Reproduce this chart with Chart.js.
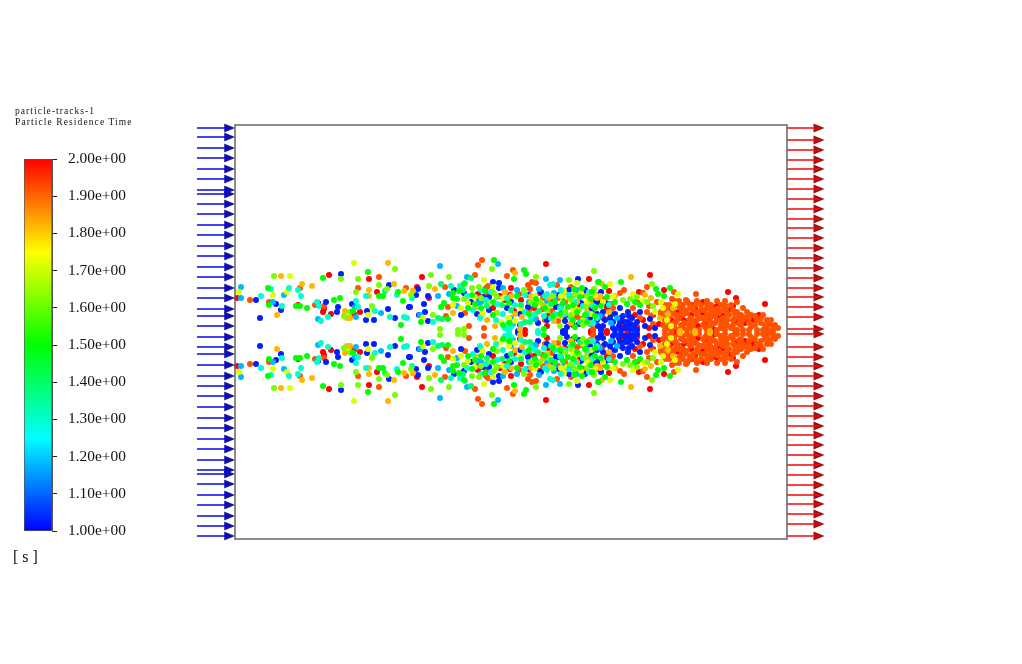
<!DOCTYPE html>
<html>
<head>
<meta charset="utf-8">
<title>particle-tracks-1</title>
<script src="https://cdn.jsdelivr.net/npm/chart.js@4/dist/chart.umd.min.js"></script>
<style>
  html, body { margin: 0; padding: 0; background: #fff; overflow: hidden; }
  canvas { display: block; position: absolute; }
  #tracks { left: 0; top: 0; }
  #colorbar { left: 0; top: 130px; }
  .note { position: absolute; font-family: "Liberation Serif", serif; color: #111; white-space: nowrap; }
  #t1 { left: 15px; top: 106px; font-size: 9.5px; letter-spacing: 1.05px; }
  #t2 { left: 15px; top: 117px; font-size: 9.5px; letter-spacing: 1.1px; }
  #unit { left: 13px; top: 548px; font-size: 16px; }
</style>
</head>
<body>
<canvas id="tracks" width="1022" height="664"></canvas>
<canvas id="colorbar" width="140" height="430"></canvas>
<div class="note" id="t1">particle-tracks-1</div>
<div class="note" id="t2">Particle Residence Time</div>
<div class="note" id="unit">[ s ]</div>
<script>
// residence time of each colour band [s], positions in mm from inlet / centre line
const greenT = 1.5, limeT = 1.62, springT = 1.4, cyanT = 1.3, yellowT = 1.72, amberT = 1.82, azureT = 1.18, blueT = 1.03, orangeT = 1.92, redT = 2.0;

const greenX = [133,88,33,144,148,163,168,34,61,65,72,99,105,118,166,259,289,291,279,363,229,339,347,218,237,282,301,356,209,206,233,258,274,333,338,360,186,213,258,294,338,274,309,268,386,364,370,357,421,435,423,429,372,380,392,400,360,366,405,218,224,240,250,310,320,342,350,325,318,300,345,328,352,340,246,222,
  133,88,33,144,148,163,168,34,61,65,72,99,105,118,166,259,289,291,279,363,229,339,347,218,237,282,301,356,209,206,233,258,274,333,338,360,186,213,258,294,338,274,309,268,386,364,370,357,421,435,423,429,372,380,392,400,360,366,405,218,224,240,250,310,320,342,350,325,318,300,345,328,352,340,246,222];
const greenY = [60,54,44,36,36,40,31,27,26,26,24,32,34,21,7,72,62,58,53,50,48,43,44,39,37,36,33,33,29,25,24,30,29,25,27,24,10,13,17,18,12,9,3,7,50,50,45,40,43,44,38,36,35,30,28,30,16,26,27,34,41,28,41,24,30,20,17,18,16,27,35,29,10,5,24,33,
  -60,-54,-44,-36,-36,-40,-31,-27,-26,-26,-24,-32,-34,-21,-7,-72,-62,-58,-53,-50,-48,-43,-44,-39,-37,-36,-33,-33,-29,-25,-24,-30,-29,-25,-27,-24,-10,-13,-17,-18,-12,-9,-3,-7,-50,-50,-45,-40,-43,-44,-38,-36,-35,-30,-28,-30,-16,-26,-27,-34,-41,-28,-41,-24,-30,-20,-17,-18,-16,-27,-35,-29,-10,-5,-24,-33];

const limeX = [160,39,106,123,144,121,152,176,137,115,109,257,359,196,214,301,334,194,244,289,359,259,229,336,351,198,262,336,205,223,229,417,395,402,412,418,388,237,246,262,305,340,352,330,312,344,348,318,296,325,
  160,39,106,123,144,121,152,176,137,115,109,257,359,196,214,301,334,194,244,289,359,259,229,336,351,198,262,336,205,223,229,417,395,402,412,418,388,237,246,262,305,340,352,330,312,344,348,318,296,325];
const limeY = [63,56,53,53,47,40,43,37,26,20,16,63,61,57,55,55,52,46,45,42,43,39,33,32,25,17,19,17,3,2,3,48,33,35,30,26,32,44,34,35,30,37,36,21,22,22,7,36,30,6,
  -63,-56,-53,-53,-47,-40,-43,-37,-26,-20,-16,-63,-61,-57,-55,-55,-52,-46,-45,-42,-43,-39,-33,-32,-25,-17,-19,-17,-3,-2,-3,-48,-33,-35,-30,-26,-32,-44,-34,-35,-30,-37,-36,-21,-22,-22,-7,-36,-30,-6];

const springX = [150,236,206,203,207,267,295,228,252,276,286,304,335,345,316,290,
  150,236,206,203,207,267,295,228,252,276,286,304,335,345,316,290];
const springY = [41,54,48,14,13,27,10,42,26,22,27,21,33,10,28,10,
  -41,-54,-48,-14,-13,-27,-10,-42,-26,-22,-27,-21,-33,-10,-28,-10];

const cyanX = [36,54,63,26,66,131,162,177,47,82,84,93,86,121,123,140,155,169,172,216,225,230,315,318,290,312,251,262,280,245,261,198,309,276,303,274,352,358,374,238,268,286,296,316,326,334,340,354,358,246,320,330,232,256,272,300,310,325,336,348,362,270,290,
  36,54,63,26,66,131,162,177,47,82,84,93,86,121,123,140,155,169,172,216,225,230,315,318,290,312,251,262,280,245,261,198,309,276,303,274,352,358,374,238,268,286,296,316,326,334,340,354,358,246,320,330,232,256,272,300,310,325,336,348,362,270,290];
const cyanY = [43,44,42,36,36,36,37,34,26,30,26,15,11,31,25,21,15,15,14,46,46,49,47,48,37,38,32,28,27,14,12,10,16,5,1,1,18,26,27,22,18,8,15,14,42,37,30,40,9,42,18,18,36,40,34,18,36,24,14,26,14,4,20,
  -43,-44,-42,-36,-36,-36,-37,-34,-26,-30,-26,-15,-11,-31,-25,-21,-15,-15,-14,-46,-46,-49,-47,-48,-37,-38,-32,-28,-27,-14,-12,-10,-16,-5,-1,-1,-18,-26,-27,-22,-18,-8,-15,-14,-42,-37,-30,-40,-9,-42,-18,-18,-36,-40,-34,-18,-36,-24,-14,-26,-14,-4,-20];

const yellowX = [119,4,38,52,55,138,133,249,258,329,342,346,218,233,188,248,274,280,348,375,443,408,398,420,428,432,436,426,440,240,266,300,332,340,352,360,322,286,226,252,268,314,326,338,356,368,378,
  119,4,38,52,55,138,133,249,258,329,342,346,218,233,188,248,274,280,348,375,443,408,398,420,428,432,436,426,440,240,266,300,332,340,352,360,322,286,226,252,268,314,326,338,356,368,378];
const yellowY = [69,40,37,40,56,23,17,52,45,41,49,39,27,29,14,19,14,11,12,48,38,31,38,20,24,12,6,30,28,35,10,36,35,24,30,37,17,24,24,30,34,26,36,20,18,30,36,
  -69,-40,-37,-40,-56,-23,-17,-52,-45,-41,-49,-39,-27,-29,-14,-19,-14,-11,-12,-48,-38,-31,-38,-20,-24,-12,-6,-30,-28,-35,-10,-36,-35,-24,-30,-37,-17,-24,-24,-30,-34,-26,-36,-20,-18,-30,-36];

const amberX = [153,46,67,77,159,134,134,169,178,42,110,112,115,280,200,314,218,252,287,319,354,260,285,396,367,410,380,365,416,425,433,438,445,460,475,240,296,304,326,336,342,352,362,280,270,246,276,308,330,356,374,
  153,46,67,77,159,134,134,169,178,42,110,112,115,280,200,314,218,252,287,319,354,260,285,396,367,410,380,365,416,425,433,438,445,460,475,240,296,304,326,336,342,352,362,280,270,246,276,308,330,356,374];
const amberY = [69,56,48,46,48,42,36,41,41,17,21,14,14,59,43,34,19,12,15,11,9,6,3,55,48,37,36,36,34,14,18,24,1,1,1,24,36,30,16,9,30,20,34,18,40,16,36,27,38,28,20,
  -69,-56,-48,-46,-48,-42,-36,-41,-41,-17,-21,-14,-14,-59,-43,-34,-19,-12,-15,-11,-9,-6,-3,-55,-48,-37,-36,-36,-34,-14,-18,-24,-1,-1,-1,-24,-36,-30,-16,-9,-30,-20,-34,-18,-40,-16,-36,-27,-38,-28,-20];

const azureX = [6,49,6,38,83,120,146,121,263,205,232,311,325,282,304,214,203,319,328,243,185,365,382,376,355,246,268,294,312,326,338,350,360,278,222,276,300,320,342,
  6,49,6,38,83,120,146,121,263,205,232,311,325,282,304,214,203,319,328,243,185,365,382,376,355,246,268,294,312,326,338,350,360,278,222,276,300,320,342];
const azureY = [45,37,34,30,13,25,19,15,68,66,55,53,52,42,43,38,36,39,35,29,17,16,14,9,8,30,44,30,30,26,36,14,25,8,26,14,13,34,42,
  -45,-37,-34,-30,-13,-25,-19,-15,-68,-66,-55,-53,-52,-42,-43,-38,-36,-39,-35,-29,-17,-16,-14,-9,-8,-30,-44,-30,-30,-26,-36,-14,-25,-8,-26,-14,-13,-34,-42];

const blueX = [106,154,181,21,41,46,25,83,91,103,102,117,132,153,174,131,139,160,184,343,258,264,183,264,229,219,248,254,294,324,193,189,236,272,293,321,327,346,363,175,190,193,226,242,285,303,330,332,330,328,363,355,355,283,357,362,368,368,375,378,380,385,385,388,390,393,393,397,398,402,405,410,415,420,372,360,244,254,276,306,312,334,340,344,350,366,380,386,392,396,384,386,390,394,399,402,376,370,362,366,378,395,
  106,154,181,21,41,46,25,83,91,103,102,117,132,153,174,131,139,160,184,343,258,264,183,264,229,219,248,254,294,324,193,189,236,272,293,321,327,346,363,175,190,193,226,242,285,303,330,332,330,328,363,355,355,283,357,362,368,368,375,378,380,385,385,388,390,393,393,397,398,402,405,410,415,420,372,360,244,254,276,306,312,334,340,344,350,366,380,386,392,396,384,386,390,394,399,402,376,370,362,366,378,395];
const blueY = [58,47,37,32,28,22,14,29,30,25,20,28,21,23,25,12,12,14,17,53,50,49,43,44,39,42,35,35,37,37,36,28,30,24,25,25,20,29,29,25,20,11,17,18,18,9,11,5,1,1,6,14,33,1,22,12,20,6,14,4,18,24,10,16,4,20,10,14,3,10,20,6,13,4,28,31,33,22,30,40,12,42,22,8,42,40,2,2,7,8,6,14,10,16,6,2,18,12,18,2,10,3,
  -58,-47,-37,-32,-28,-22,-14,-29,-30,-25,-20,-28,-21,-23,-25,-12,-12,-14,-17,-53,-50,-49,-43,-44,-39,-42,-35,-35,-37,-37,-36,-28,-30,-24,-25,-25,-20,-29,-29,-25,-20,-11,-17,-18,-18,-9,-11,-5,-1,-1,-6,-14,-33,-1,-22,-12,-20,-6,-14,-4,-18,-24,-10,-16,-4,-20,-10,-14,-3,-10,-20,-6,-13,-4,-28,-31,-33,-22,-30,-40,-12,-42,-22,-8,-42,-40,-2,-2,-7,-8,-6,-14,-10,-16,-6,-2,-18,-12,-18,-2,-10,-3];

const orangeX = [144,65,123,171,89,15,34,80,247,243,278,272,240,210,178,253,251,293,297,301,295,322,336,252,308,323,213,294,308,317,211,230,301,323,342,346,234,249,358,389,385,412,439,408,461,502,472,451,370,378,405,412,422,430,437,444,432,440,448,444,452,458,436,445,465,470,472,476,480,484,490,492,496,500,504,508,514,516,520,526,532,536,455,462,486,505,512,543,538,534,284,302,310,330,348,352,364,376,398,402,414,416,418,426,
  430,436,444,452,458,464,472,482,490,500,508,514,522,528,538,428,434,446,454,468,476,486,492,498,506,520,530,540,430,442,454,462,470,482,498,508,522,532,426,432,440,448,462,472,480,494,506,516,528,430,438,450,458,466,478,488,498,434,448,460,466,476,486,496,440,452,462,482,490,
  439,457,475,489,502,518,534,436,449,460,475,486,514,526,505,434,443,456,468,488,500,511,522,435,447,470,476,492,502,442,454,472,482,491,
  144,65,123,171,89,15,34,80,247,243,278,272,240,210,178,253,251,293,297,301,295,322,336,252,308,323,213,294,308,317,211,230,301,323,342,346,234,249,358,389,385,412,439,408,461,502,472,451,370,378,405,412,422,430,437,444,432,440,448,444,452,458,436,445,465,470,472,476,480,484,490,492,496,500,504,508,514,516,520,526,532,536,455,462,486,505,512,543,538,534,284,302,310,330,348,352,364,376,398,402,414,416,418,426,
  430,436,444,452,458,464,472,482,490,500,508,514,522,528,538,428,434,446,454,468,476,486,492,498,506,520,530,540,430,442,454,462,470,482,498,508,522,532,426,432,440,448,462,472,480,494,506,516,528,430,438,450,458,466,478,488,498,434,448,460,466,476,486,496,440,452,462,482,490,
  439,457,475,489,502,518,534,436,449,460,475,486,514,526,505,434,443,456,468,488,500,511,522,435,447,470,476,492,502,442,454,472,482,491];
const orangeY = [55,44,44,44,26,32,30,27,72,67,62,56,57,45,41,46,44,47,50,49,43,47,45,38,34,34,25,22,23,21,16,19,13,11,15,13,6,4,3,42,39,45,40,39,38,30,31,32,33,24,14,20,30,27,33,31,4,9,4,14,19,9,19,24,14,5,24,15,9,20,27,12,4,18,8,24,14,5,16,9,5,12,24,20,4,15,20,4,6,1,38,20,12,30,37,26,30,28,24,30,26,16,8,20,
  2,2,2,2,2,2,2,2,2,2,2,2,2,2,2,7,7,7,7,7,7,7,7,7,7,7,7,7,12,12,12,12,12,12,12,12,12,12,17,17,17,17,17,17,17,17,17,17,17,22,22,22,22,22,22,22,22,27,27,27,27,27,27,27,31,31,31,31,31,
  5,5,6,8,2,7,9,8,9,11,10,11,9,14,12,15,17,14,14,14,14,15,12,24,21,22,20,19,20,27,28,28,23,23,
  -55,-44,-44,-44,-26,-32,-30,-27,-72,-67,-62,-56,-57,-45,-41,-46,-44,-47,-50,-49,-43,-47,-45,-38,-34,-34,-25,-22,-23,-21,-16,-19,-13,-11,-15,-13,-6,-4,-3,-42,-39,-45,-40,-39,-38,-30,-31,-32,-33,-24,-14,-20,-30,-27,-33,-31,-4,-9,-4,-14,-19,-9,-19,-24,-14,-5,-24,-15,-9,-20,-27,-12,-4,-18,-8,-24,-14,-5,-16,-9,-5,-12,-24,-20,-4,-15,-20,-4,-6,-1,-38,-20,-12,-30,-37,-26,-30,-28,-24,-30,-26,-16,-8,-20,
  -2,-2,-2,-2,-2,-2,-2,-2,-2,-2,-2,-2,-2,-2,-2,-7,-7,-7,-7,-7,-7,-7,-7,-7,-7,-7,-7,-7,-12,-12,-12,-12,-12,-12,-12,-12,-12,-12,-17,-17,-17,-17,-17,-17,-17,-17,-17,-17,-17,-22,-22,-22,-22,-22,-22,-22,-22,-27,-27,-27,-27,-27,-27,-27,-31,-31,-31,-31,-31,
  -5,-5,-6,-8,-2,-7,-9,-8,-9,-11,-10,-11,-9,-14,-12,-15,-17,-14,-14,-14,-14,-15,-12,-24,-21,-22,-20,-19,-20,-27,-28,-28,-23,-23];

const redX = [94,134,182,142,2,63,89,88,96,125,119,311,187,354,276,341,243,265,275,305,194,270,286,350,258,279,299,323,356,313,285,312,338,290,356,415,374,404,429,493,501,530,468,458,368,358,392,388,372,402,408,414,418,424,400,436,443,450,456,463,468,474,482,488,494,500,510,518,524,530,440,478,316,330,344,362,372,447,460,478,498,512,482,470,456,
  94,134,182,142,2,63,89,88,96,125,119,311,187,354,276,341,243,265,275,305,194,270,286,350,258,279,299,323,356,313,285,312,338,290,356,415,374,404,429,493,501,530,468,458,368,358,392,388,372,402,408,414,418,424,400,436,443,450,456,463,468,474,482,488,494,500,510,518,524,530,440,478,316,330,344,362,372,447,460,478,498,512,482,470,456];
const redY = [57,53,45,40,34,27,23,20,18,20,18,68,55,53,44,41,38,36,37,39,34,32,32,37,24,21,24,25,24,16,7,6,7,2,1,57,41,40,42,40,34,28,30,27,14,2,2,7,1,5,12,4,17,8,17,12,20,11,17,6,19,11,26,16,22,11,9,12,17,3,3,3,30,16,26,37,24,14,24,24,26,14,15,9,6,
  -57,-53,-45,-40,-34,-27,-23,-20,-18,-20,-18,-68,-55,-53,-44,-41,-38,-36,-37,-39,-34,-32,-32,-37,-24,-21,-24,-25,-24,-16,-7,-6,-7,-2,-1,-57,-41,-40,-42,-40,-34,-28,-30,-27,-14,-2,-2,-7,-1,-5,-12,-4,-17,-8,-17,-12,-20,-11,-17,-6,-19,-11,-26,-16,-22,-11,-9,-12,-17,-3,-3,-3,-30,-16,-26,-37,-24,-14,-24,-24,-26,-14,-15,-9,-6];

// velocity inlet / pressure outlet arrows
const inletY = [204,195,184,174,163,153,142,138,128,118,107,97,86,76,65,55,44,34,23,16,6,-5,-15,-22,-33,-44,-54,-64,-75,-86,-96,-107,-117,-128,-138,-142,-152,-163,-173,-184,-194,-204];
const outletY = [204,192,182,172,163,153,143,133,123,113,104,94,84,74,64,54,44,35,25,15,3,-2,-15,-25,-34,-44,-54,-64,-74,-84,-94,-103,-113,-123,-133,-143,-153,-163,-172,-182,-192,-204];

// axis ranges, the x scale runs past the duct so the arrows stay inside the chart area
const ductLength = 552, ductHalf = 207, xPad = 45;
const timeMin = 1, timeMax = 2;

function ramp(v) {
  // fluent rainbow map: blue, cyan, green, yellow, red
  const f = (v - timeMin) / (timeMax - timeMin) * 4;
  const i = Math.min(Math.floor(f), 3), k = f - i;
  const stops = [[0,0,255],[0,255,255],[0,255,0],[255,255,0],[255,0,0]];
  const c = [0,1,2].map(n => Math.round(stops[i][n] + (stops[i + 1][n] - stops[i][n]) * k));
  return 'rgb(' + c.join(',') + ')';
}

function band(xs, ys, t) {
  return {
    data: xs.map((x, i) => ({ x: x, y: ys[i] })),
    backgroundColor: ramp(t),
    pointBorderWidth: 0,
    pointRadius: 3,
    clip: false
  };
}

function arrowHead(color) {
  const c = document.createElement('canvas');
  c.width = 12; c.height = 10;
  const g = c.getContext('2d');
  g.fillStyle = color;
  g.beginPath();
  g.moveTo(0.5, 0.5); g.lineTo(11.5, 5); g.lineTo(0.5, 9.5);
  g.closePath(); g.fill();
  return c;
}

function arrowLines(ys, from, to, color) {
  const pts = [];
  ys.forEach(y => { pts.push({ x: from, y: y }, { x: to, y: y }, { x: to, y: null }); });
  return { data: pts, showLine: true, borderColor: color, borderWidth: 1.4, pointRadius: 0, spanGaps: false, clip: false };
}

function arrowHeads(ys, at, color) {
  return { data: ys.map(y => ({ x: at, y: y })), pointStyle: arrowHead(color), showLine: false, clip: false };
}

const frame = {
  id: 'frame',
  afterDraw(chart) {
    const g = chart.ctx, sx = chart.scales.x, sy = chart.scales.y;
    const left = sx.getPixelForValue(0), right = sx.getPixelForValue(ductLength);
    g.save();
    g.strokeStyle = '#666';
    g.lineWidth = 1.5;
    g.strokeRect(left, sy.top, right - left, sy.bottom - sy.top);
    g.restore();
  }
};

new Chart(document.getElementById('tracks'), {
  type: 'scatter',
  data: {
    datasets: [
      arrowLines(inletY, -38, -5, '#0808e8'),
      arrowHeads(inletY, -5.5, '#10109a'),
      arrowLines(outletY, 552, 585, '#f00808'),
      arrowHeads(outletY, 584, '#a01010'),
      band(greenX, greenY, greenT),
      band(limeX, limeY, limeT),
      band(springX, springY, springT),
      band(cyanX, cyanY, cyanT),
      band(yellowX, yellowY, yellowT),
      band(amberX, amberY, amberT),
      band(azureX, azureY, azureT),
      band(blueX, blueY, blueT),
      band(orangeX, orangeY, orangeT),
      band(redX, redY, redT)
    ]
  },
  options: {
    responsive: false,
    animation: false,
    events: [],
    layout: { padding: { left: 190, right: 190, top: 125, bottom: 125 } },
    scales: {
      x: { display: false, min: -xPad, max: ductLength + xPad },
      y: { display: false, min: -ductHalf, max: ductHalf }
    },
    plugins: { legend: { display: false }, tooltip: { enabled: false } }
  },
  plugins: [frame]
});

new Chart(document.getElementById('colorbar'), {
  type: 'bar',
  data: {
    labels: ['time'],
    datasets: [{
      data: [[timeMin, timeMax]],
      borderColor: '#555',
      borderWidth: 1,
      borderSkipped: false,
      barPercentage: 1,
      categoryPercentage: 1,
      backgroundColor(ctx) {
        const a = ctx.chart.chartArea;
        if (!a) return '#00f';
        const g = ctx.chart.ctx.createLinearGradient(0, a.bottom, 0, a.top);
        g.addColorStop(0, '#0000ff');
        g.addColorStop(0.25, '#00ffff');
        g.addColorStop(0.5, '#00ff00');
        g.addColorStop(0.75, '#ffff00');
        g.addColorStop(1, '#ff0000');
        return g;
      }
    }]
  },
  options: {
    responsive: false,
    animation: false,
    events: [],
    layout: { padding: { left: 24, right: 0, top: 29, bottom: 29 } },
    scales: {
      x: { display: false },
      y: {
        position: 'right',
        min: timeMin,
        max: timeMax,
        afterFit(s) { s.width = 88; },
        border: { color: '#555' },
        grid: { drawOnChartArea: false, tickLength: 5, color: '#222' },
        ticks: {
          stepSize: 0.1,
          padding: 11,
          color: '#111',
          font: { family: '"Liberation Serif", serif', size: 15.4 },
          callback: v => v.toFixed(2) + 'e+00'
        }
      }
    },
    plugins: { legend: { display: false }, tooltip: { enabled: false } }
  }
});
</script>
</body>
</html>
